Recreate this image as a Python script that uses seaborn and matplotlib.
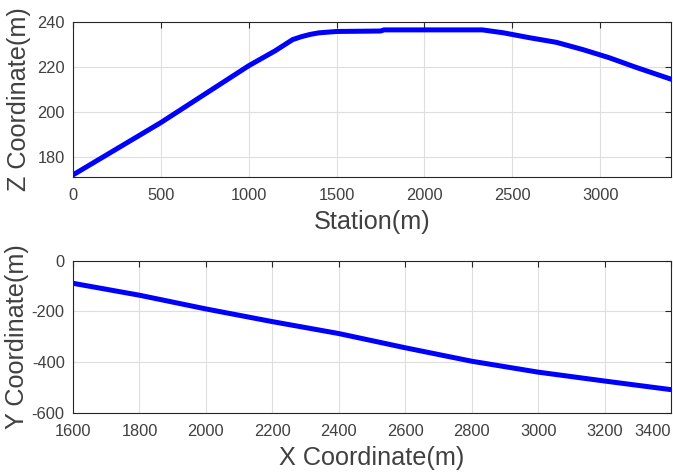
import numpy as np
import pandas as pd
import matplotlib
matplotlib.use("Agg")
import matplotlib.pyplot as plt
import seaborn as sns

# ---------- Data ----------
station = [0, 250, 500, 750, 1000, 1150, 1250, 1300, 1350, 1400, 1500,
           1750, 1770, 2000, 2330, 2450, 2600, 2750, 2900, 3050, 3200, 3405]
z_coord = [172.2, 183.8, 195.4, 208.0, 220.6, 227.2, 232.2, 233.5, 234.5,
           235.2, 235.8, 236.0, 236.5, 236.5, 236.5, 235.2, 233.0, 231.0,
           227.8, 224.2, 220.0, 214.6]

x_coord = [1600, 1800, 2000, 2200, 2400, 2600, 2800, 3000, 3200, 3400]
y_coord = [-89, -136, -190, -240, -287, -343, -396, -439, -474, -508]

profile = pd.DataFrame({"Station": station, "Z": z_coord})
plan = pd.DataFrame({"X": x_coord, "Y": y_coord})

# ---------- Style (MATLAB-like) ----------
sns.set_theme(style="white")
plt.rcParams["font.family"] = ["Liberation Sans", "DejaVu Sans"]
plt.rcParams["axes.unicode_minus"] = False
text_col = "#404040"

fig = plt.figure(figsize=(6.73, 4.75), dpi=100)
ax1 = fig.add_axes([73/673, 1 - 176.7/475, 598/673, 154.7/475])
ax2 = fig.add_axes([73/673, 1 - 413/475, 598/673, 152.3/475])


def matlab_axes(ax):
    ax.grid(True, color="#dedede", lw=0.8)
    ax.set_axisbelow(True)
    for s in ax.spines.values():
        s.set_color("#262626")
        s.set_linewidth(0.8)
    ax.tick_params(direction="in", top=True, right=True, length=4,
                   width=0.8, color="#262626", labelsize=11.8,
                   labelcolor=text_col)
    ax.tick_params(axis="x", pad=8)
    ax.tick_params(axis="y", pad=6)


# ---------- Top: profile ----------
sns.lineplot(data=profile, x="Station", y="Z", ax=ax1, color="#0000ff",
             lw=3.6, estimator=None, sort=False)
ax1.set_xlim(0, 3403)
ax1.set_ylim(171.4, 240)
ax1.set_xticks([0, 500, 1000, 1500, 2000, 2500, 3000])
ax1.set_yticks([180, 200, 220, 240])
ax1.set_xlabel("Station(m)", fontsize=18.2, color=text_col, labelpad=5)
ax1.set_ylabel("Z Coordinate(m)", fontsize=18.2, color=text_col, labelpad=4)
matlab_axes(ax1)

# ---------- Bottom: plan ----------
sns.lineplot(data=plan, x="X", y="Y", ax=ax2, color="#0000ff",
             lw=3.6, estimator=None, sort=False)
ax2.set_xlim(1600, 3400)
ax2.set_ylim(-600, 0)
ax2.set_xticks(np.arange(1600, 3401, 200))
ax2.set_yticks([-600, -400, -200, 0])
ax2.set_xlabel("X Coordinate(m)", fontsize=18.2, color=text_col, labelpad=5)
ax2.set_ylabel("Y Coordinate(m)", fontsize=18.2, color=text_col, labelpad=2)
matlab_axes(ax2)
# last x tick label sits against the figure edge, as in the reference
ax2.get_xticklabels()[-1].set_horizontalalignment("right")
ax2.get_xticklabels()[-1].set_x(3400)

fig.savefig("out.png", dpi=100)
